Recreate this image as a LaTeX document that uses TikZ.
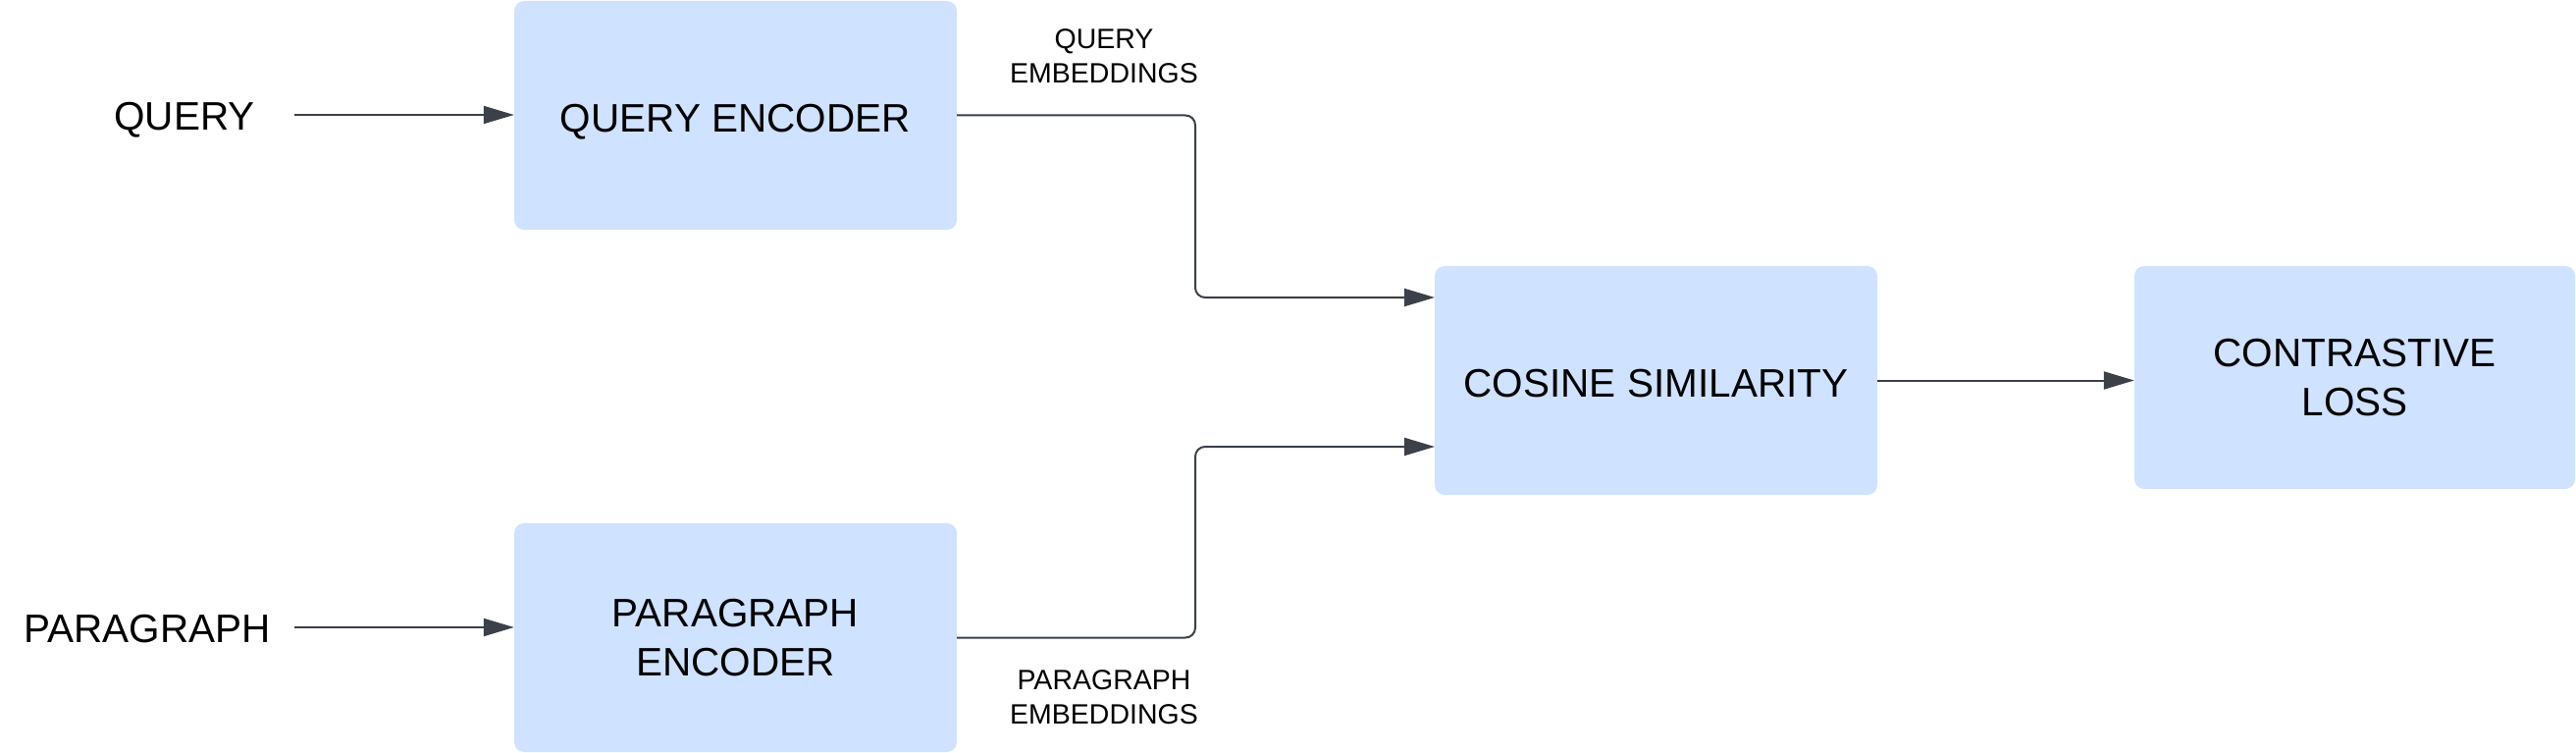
\documentclass[tikz,border=0pt]{standalone}
\usepackage{fontspec}
\setmainfont{Liberation Sans}
\usetikzlibrary{arrows.meta,calc}
\definecolor{boxfill}{RGB}{207,226,255}
\definecolor{linec}{RGB}{59,64,73}
\tikzset{
  block/.style={fill=boxfill, rounded corners=10pt, inner sep=0pt,
    minimum width=451pt, minimum height=233pt, align=center,
    font=\fontsize{40.5pt}{50pt}\selectfont},
  oneline/.style={text height=34pt, text depth=0pt},
  biglabel/.style={inner sep=0pt, text height=29pt, text depth=0pt,
    font=\fontsize{40.5pt}{50pt}\selectfont},
  smalllabel/.style={inner sep=0pt, align=center, font=\fontsize{28.5pt}{35pt}\selectfont},
  conn/.style={draw=linec, line width=2pt, rounded corners=10pt,
    -{Triangle[length=31pt,width=18pt]}},
}
\begin{document}
\begin{tikzpicture}[x=1pt,y=-1pt]
\useasboundingbox (0,0) rectangle (2625,767);
\node[block, oneline] (qenc) at (749.5,117.5) {QUERY ENCODER};
\node[block] (penc) at (749.5,649.5) {PARAGRAPH\\ENCODER};
\node[block, oneline] (cos) at (1687.5,387.5) {COSINE SIMILARITY};
\node[block, minimum width=449pt, minimum height=227pt] (con) at (2399.5,384.5) {CONTRASTIVE\\LOSS};
\node[biglabel] (qin) at (188,118.5) {QUERY};
\node[biglabel] (pin) at (150,640) {PARAGRAPH};
\node[smalllabel] (qemb) at (1125,57) {QUERY\\EMBEDDINGS};
\node[smalllabel] (pemb) at (1125,710) {PARAGRAPH\\EMBEDDINGS};
\coordinate (qstart) at (300,117);
\coordinate (pstart) at (300,639);
\coordinate (bend) at (1218,0);
\coordinate (cin1) at (1462,303);
\coordinate (cin2) at (1462,455);
\draw[conn] (qstart) -- (qstart -| qenc.west);
\draw[conn] (pstart) -- (pstart -| penc.west);
\draw[conn] (qenc.east) -- (qenc.east -| bend) -- (bend |- cin1) -- (cin1);
\draw[conn] (penc.east) -- (penc.east -| bend) -- (bend |- cin2) -- (cin2);
\draw[conn] (cos.east) -- (cos.east -| con.west);
\end{tikzpicture}
\end{document}
